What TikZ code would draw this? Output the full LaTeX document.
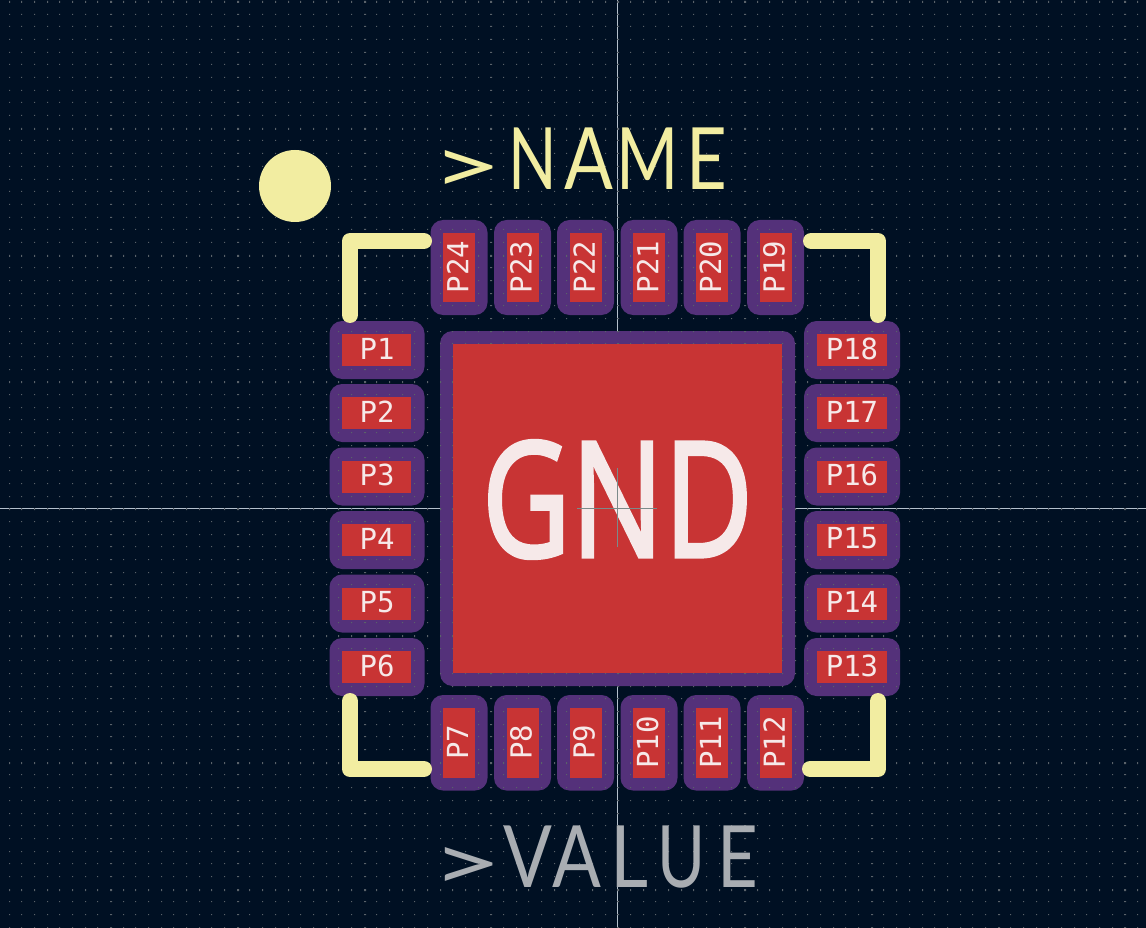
\documentclass[tikz,border=0pt]{standalone}
\usepackage{fontspec}
\usepackage{graphicx}
\newfontfamily\padfont{DejaVu Sans Mono}
\newfontfamily\gndfont{Noto Sans}[FakeBold=2]
\newfontfamily\silkfont{Lato}
\definecolor{boardbg}{HTML}{001023}
\definecolor{padred}{HTML}{C83434}
\definecolor{maskpurple}{HTML}{54317A}
\definecolor{silk}{HTML}{F2EDA1}
\definecolor{fabgrey}{HTML}{A9ADB2}
\definecolor{padtext}{HTML}{F6E9E9}
\definecolor{griddot}{HTML}{5A626A}
\definecolor{cross}{HTML}{B4C0CC}
\definecolor{origin}{HTML}{7C8A8A}
\tikzset{
  mask/.style={fill=maskpurple,draw=none,rounded corners=12.5pt},
  copper/.style={fill=padred,draw=none},
  padlabel/.style={text=padtext,inner sep=0pt,font=\padfont\fontsize{29}{29}\selectfont},
  silkline/.style={draw=silk,line width=16pt,line cap=round,line join=round},
  bigtext/.style={inner sep=0pt,anchor=base west,font=\silkfont\fontsize{86}{86}\selectfont}
}
% one glyph of a silkscreen string: offset from the string's start, x scale, letter
\newcommand{\glyphat}[3]{\makebox[0pt][l]{\hspace{#1pt}\makebox[0pt][c]{\scalebox{#2}[1]{#3}}}}
\newcommand{\glypharrow}{\glyphat{28.5}{1.43}{\raisebox{-3.5pt}{\scalebox{1}[.9]{>}}}}
\begin{document}
\begin{tikzpicture}[x=1pt,y=-1pt]
\useasboundingbox (0,0) rectangle (1146,928);
\fill[boardbg] (0,0) rectangle (1146,928);
% crosshair
\fill[cross] (617,0) rectangle (618,928);
\fill[cross] (0,508) rectangle (1146,509);
% solder mask
\fill[mask] (440,331) rectangle (795,686);
\foreach \c in {459,522.5,585.5,649,712,775.5}{
  \fill[mask] (\c-28.5,220) rectangle (\c+28.5,315);
  \fill[mask] (\c-28.5,695) rectangle (\c+28.5,790.5);
}
\foreach \c in {350,413,476.5,540,603.5,667}{
  \fill[mask] (329.5,\c-29) rectangle (424.5,\c+29);
  \fill[mask] (804,\c-29) rectangle (900,\c+29);
}
% grid dots
\fill[griddot]
\foreach \i in {-8,...,82}{
  \foreach \j in {0,...,73}{
    \pgfextra{
      \pgfmathsetmacro\dx{round(110+12.68*\i)}
      \pgfmathsetmacro\dy{round(1+12.68*\j)}
      \pgfmathsetmacro\dw{mod(\i+80,10)==0?2:1}
      \pgfmathsetmacro\dh{mod(\j,10)==0?2:1}
    }
    (\dx,\dy) rectangle ++(\dw,\dh)
  }
};
% copper
\fill[copper] (453,344) rectangle (782,673);
\foreach \c/\t/\b in {459/P24/P7,522.5/P23/P8,585.5/P22/P9,649/P21/P10,712/P20/P11,775.5/P19/P12}{
  \fill[copper] (\c-16,233) rectangle (\c+16,302);
  \fill[copper] (\c-16,708) rectangle (\c+16,777.5);
  \node[padlabel,rotate=90] (pad\t) at (\c-1.5,267) {\t};
  \node[padlabel,rotate=90] (pad\b) at (\c-1.5,742.5) {\b};
}
\foreach \c/\l/\r in {350/P1/P18,413/P2/P17,476.5/P3/P16,540/P4/P15,603.5/P5/P14,667/P6/P13}{
  \fill[copper] (342,\c-16) rectangle (411,\c+16);
  \fill[copper] (817,\c-16) rectangle (887,\c+16);
  \node[padlabel] (pad\l) at (377,\c-1.5) {\l};
  \node[padlabel] (pad\r) at (852,\c-1.5) {\r};
}
\node[text=padtext,inner sep=0pt,anchor=base,font=\gndfont\fontsize{161}{161}\selectfont] (gnd) at (617.5,557) {\scalebox{.76}[1]{GND}};
% small origin cross
\fill[origin] (577,507.5) rectangle (657,508.5);
\fill[origin] (617,468) rectangle (618,547);
% silkscreen
\draw[silkline] (424,241) -- (350,241) -- (350,315);
\draw[silkline] (811,241) -- (878,241) -- (878,315);
\draw[silkline] (424,769) -- (350,769) -- (350,701);
\draw[silkline] (810,769) -- (878,769) -- (878,701);
\fill[silk] (295,186) circle (36);
\node[bigtext,text=silk] (name) at (438,190) {\glypharrow\glyphat{94.5}{.74}{N}\glyphat{150.5}{.84}{A}\glyphat{209}{.78}{M}\glyphat{268}{.82}{E}\hspace{286pt}};
\node[bigtext,text=fabgrey] (value) at (438,887) {\glypharrow\glyphat{89}{.84}{V}\glyphat{138.5}{.84}{A}\glyphat{190.5}{.86}{L}\glyphat{242.5}{.76}{U}\glyphat{299}{.82}{E}\hspace{317pt}};
\end{tikzpicture}
\end{document}
